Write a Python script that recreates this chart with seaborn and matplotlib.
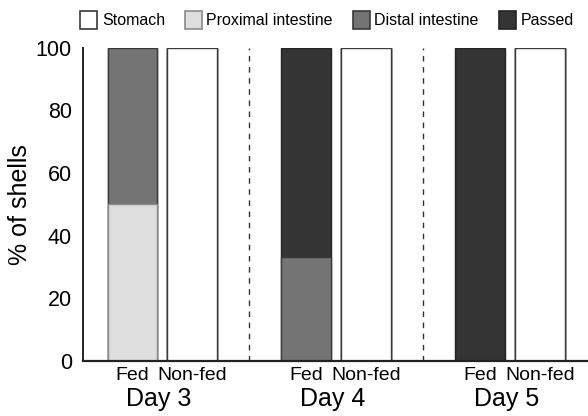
import numpy as np
import pandas as pd
import matplotlib
matplotlib.use("Agg")
import matplotlib.pyplot as plt
import seaborn as sns
from matplotlib.patches import Patch

days = ["Day 3", "Day 4", "Day 5"]
groups = ["Fed", "Non-fed"]
stages = ["Stomach", "Proximal intestine", "Distal intestine", "Passed"]
stage_colors = ["#ffffff", "#dedede", "#747474", "#343434"]

# % of shells in each stage, per day
fed_stomach = [0, 0, 0]
fed_proximal = [50, 0, 0]
fed_distal = [50, 33.3, 0]
fed_passed = [0, 66.7, 100]
nonfed_stomach = [100, 100, 100]
nonfed_proximal = [0, 0, 0]
nonfed_distal = [0, 0, 0]
nonfed_passed = [0, 0, 0]

group_step = 2.9

rows = []
for i, day in enumerate(days):
    for j, (g, vals) in enumerate([
        ("Fed", [fed_stomach[i], fed_proximal[i], fed_distal[i], fed_passed[i]]),
        ("Non-fed", [nonfed_stomach[i], nonfed_proximal[i], nonfed_distal[i], nonfed_passed[i]]),
    ]):
        cum = np.cumsum(vals)
        for k, st in enumerate(stages):
            rows.append({"day": day, "group": g, "pos": i * group_step + j,
                         "stage": st, "top": cum[k]})
df = pd.DataFrame(rows)

plt.rcParams["font.family"] = ["Liberation Sans", "DejaVu Sans"]
fig = plt.figure(figsize=(5.88, 4.16), dpi=100)
ax = fig.add_axes([0.141, 0.132, 0.859, 0.753])

# draw stacked bars from the top layer down
edge_cols = ["#3a3a3a", "#8a8a8a", "#3a3a3a", "#222222"]
for k in range(len(stages) - 1, -1, -1):
    sub = df[df["stage"] == stages[k]]
    sns.barplot(data=sub, x="pos", y="top", native_scale=True, color=stage_colors[k],
                saturation=1, width=0.82, errorbar=None, edgecolor=edge_cols[k],
                linewidth=1.0, ax=ax)

for i in range(len(days) - 1):
    ax.axvline(i * group_step + 1 + (group_step - 1) / 2, ymin=0, ymax=1,
               color="#333333", lw=1, ls=(0, (4, 4)))

ax.set_xlim(-0.82, 7.6)
ax.set_ylim(0, 100)
ax.set_yticks([0, 20, 40, 60, 80, 100])
ax.tick_params(axis="y", length=0, labelsize=15.5, pad=8)
ax.set_xticks(df.drop_duplicates("pos")["pos"])
ax.set_xticklabels([g for _ in days for g in groups], fontsize=14)
ax.tick_params(axis="x", length=0, pad=4)
ax.set_xlabel("")
ax.set_ylabel("% of shells", fontsize=18, labelpad=3)

for i, day in enumerate(days):
    ax.text(i * group_step + 0.45, -0.12, day, transform=ax.get_xaxis_transform(),
            ha="center", va="center", fontsize=18)

sns.despine(ax=ax)
ax.spines["left"].set_linewidth(1.4)
ax.spines["bottom"].set_linewidth(1.6)
ax.spines["left"].set_color("#222222")
ax.spines["bottom"].set_color("#222222")

handles = [Patch(facecolor=c, edgecolor=e, linewidth=1.2) for c, e in zip(stage_colors, edge_cols)]
fig.legend(handles, stages, loc="center", bbox_to_anchor=(0.556, 0.952), ncol=4,
           frameon=False, fontsize=11.5, handlelength=1.05, handleheight=1.3,
           handletextpad=0.3, columnspacing=1.25, borderaxespad=0)

fig.savefig("out.png", dpi=100)
